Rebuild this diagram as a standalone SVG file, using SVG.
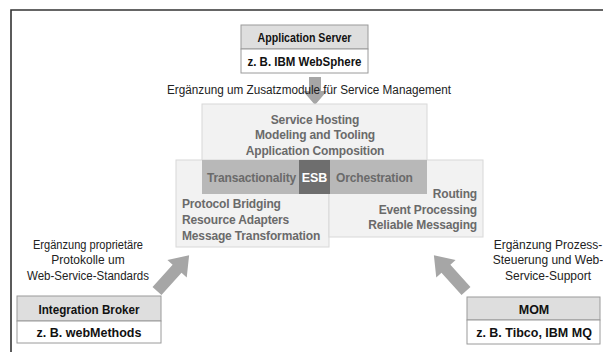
<svg xmlns="http://www.w3.org/2000/svg" width="603" height="352" viewBox="0 0 603 352">
<style>
text{font-family:"Liberation Sans",Arial,sans-serif}
.b{font-weight:bold;font-size:12.5px;fill:#111;text-anchor:middle}
.c{font-size:12px;fill:#222;text-anchor:middle}
.g{font-weight:bold;font-size:12px;letter-spacing:-0.15px;fill:#6a6a6a}
.hd{fill:#dedede;stroke:#9a9a9a;stroke-width:1}
.wt{fill:#fff;stroke:#9a9a9a;stroke-width:1}
.pane{fill:#f2f2f2;stroke:#d8d8d8;stroke-width:1}
.arr{fill:#a6a6a6}
</style>
<rect x="0" y="0" width="603" height="352" fill="#fff"/>
<path d="M11 352 V10 H603" fill="none" stroke="#333" stroke-width="1.6"/>
<g id="connectors">
<polygon class="arr" points="309,77 321,77 321,91 327,91 315,105 303,91 309,91"/>
<g transform="translate(157,291) rotate(-48)"><polygon class="arr" points="0,-6 30,-6 30,-13 48,0 30,13 30,6 0,6"/></g>
<g transform="translate(466,291) rotate(-132)"><polygon class="arr" points="0,-6 30,-6 30,-13 48,0 30,13 30,6 0,6"/></g>
</g>
<g id="app-server">
<rect class="hd" x="241" y="25" width="127" height="24"/>
<rect class="wt" x="241" y="49" width="127" height="24"/>
<text class="b" x="304.5" y="42" textLength="94" lengthAdjust="spacingAndGlyphs">Application Server</text>
<text class="b" x="304.5" y="66" textLength="114" lengthAdjust="spacingAndGlyphs">z. B. IBM WebSphere</text>
</g>
<text class="c" x="309" y="94" textLength="284" lengthAdjust="spacingAndGlyphs">Ergänzung um Zusatzmodule für Service Management</text>
<g id="esb">
<rect class="pane" x="202" y="104" width="225" height="70"/>
<rect class="pane" x="176" y="160" width="153" height="87"/>
<rect class="pane" x="329" y="160" width="154" height="77"/>
<rect x="202" y="160" width="225" height="34" fill="#b8b8b8"/>
<rect x="299" y="160" width="31" height="34" fill="#6e6e6e"/>
<text class="g" x="315" y="124" text-anchor="middle">Service Hosting</text>
<text class="g" x="315" y="139" text-anchor="middle">Modeling and Tooling</text>
<text class="g" x="315" y="155" text-anchor="middle">Application Composition</text>
<text class="g" x="296" y="182" text-anchor="end">Transactionality</text>
<text x="314.5" y="182" text-anchor="middle" style="font-weight:bold;font-size:12.5px;fill:#fff">ESB</text>
<text class="g" x="336" y="182">Orchestration</text>
<text class="g" x="182" y="208">Protocol Bridging</text>
<text class="g" x="182" y="224">Resource Adapters</text>
<text class="g" x="182" y="240">Message Transformation</text>
<text class="g" x="477" y="198" text-anchor="end">Routing</text>
<text class="g" x="477" y="214" text-anchor="end">Event Processing</text>
<text class="g" x="477" y="229" text-anchor="end">Reliable Messaging</text>
</g>
<g id="caption-left">
<text class="c" x="88" y="249" textLength="110" lengthAdjust="spacingAndGlyphs">Ergänzung proprietäre</text>
<text class="c" x="88" y="264">Protokolle um</text>
<text class="c" x="88" y="280" textLength="122" lengthAdjust="spacingAndGlyphs">Web-Service-Standards</text>
</g>
<g id="integration-broker">
<rect class="hd" x="17" y="296" width="144" height="25"/>
<rect class="wt" x="17" y="321" width="144" height="22"/>
<text class="b" x="89" y="314" textLength="101" lengthAdjust="spacingAndGlyphs">Integration Broker</text>
<text class="b" x="89" y="337">z. B. webMethods</text>
</g>
<g id="caption-right">
<text class="c" x="548" y="249">Ergänzung Prozess-</text>
<text class="c" x="548" y="264">Steuerung und Web-</text>
<text class="c" x="548" y="280">Service-Support</text>
</g>
<g id="mom">
<rect class="hd" x="467" y="297" width="133" height="23"/>
<rect class="wt" x="467" y="320" width="133" height="24"/>
<text class="b" x="534" y="314">MOM</text>
<text class="b" x="534" y="337">z. B. Tibco, IBM MQ</text>
</g>
</svg>
